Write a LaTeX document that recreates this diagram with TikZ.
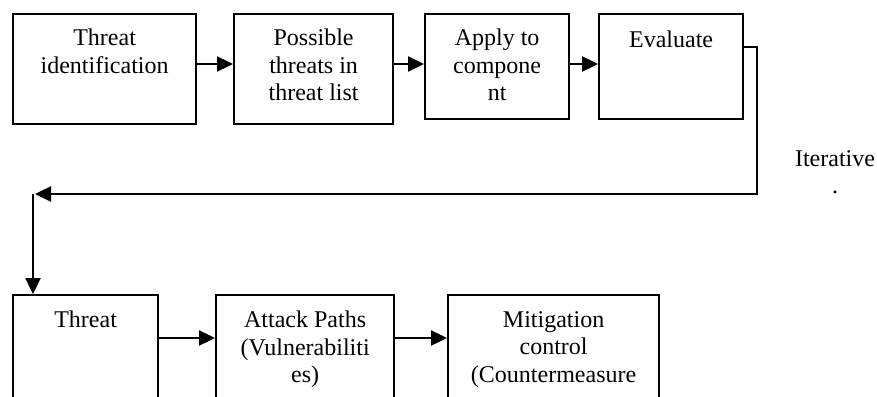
\documentclass[tikz,border=0pt]{standalone}
\usepackage{fontspec}
\setmainfont{Liberation Serif}
\usetikzlibrary{arrows.meta}
\begin{document}
\begin{tikzpicture}[x=1pt,y=-1pt,
  box/.style={draw,line width=2.2pt,rectangle,anchor=north west,inner sep=0pt},
  lbl/.style={anchor=north,align=center,inner sep=0pt,font=\fontsize{24}{27.5}\selectfont},
  conn/.style={line width=2.4pt,-{Triangle[length=16pt,width=15pt]}},
  line/.style={line width=2.4pt}]
\useasboundingbox (0,0) rectangle (877,396);
\clip (0,0) rectangle (877,396);
% top row
\node[box,minimum width=183pt,minimum height=110pt] (b1) at (12,13) {};
\node[box,minimum width=159pt,minimum height=110pt] (b2) at (233,13) {};
\node[box,minimum width=144pt,minimum height=105pt] (b3) at (424,13) {};
\node[box,minimum width=144pt,minimum height=105pt] (b4) at (598,13) {};
% bottom row
\node[box,minimum width=145pt,minimum height=140pt] (b5) at (12,294) {};
\node[box,minimum width=178pt,minimum height=140pt] (b6) at (215,294) {};
\node[box,minimum width=211pt,minimum height=140pt] (b7) at (447,294) {};
% labels
\node[lbl] (t1) at ([yshift=-16pt]b1.north) {Threat\\identification};
\node[lbl] (t2) at ([yshift=-16pt]b2.north) {Possible\\threats in\\threat list};
\node[lbl] (t3) at ([yshift=-16pt]b3.north) {Apply to\\compone\\nt};
\node[lbl] (t4) at ([yshift=-18pt]b4.north) {Evaluate};
\node[lbl] (t5) at ([yshift=-17pt]b5.north) {Threat};
\node[lbl] (t6) at ([yshift=-17pt]b6.north) {Attack Paths\\(Vulnerabiliti\\es)};
\node[lbl] (t7) at ([yshift=-17pt]b7.north) {Mitigation\\control\\(Countermeasure};
\node[lbl] (it) at (835,150) {Iterative\\.};
% horizontal arrows
\coordinate (y1) at (0,64);
\coordinate (y2) at (0,338);
\draw[conn] (b1.east |- y1) -- (b2.west |- y1);
\draw[conn] (b2.east |- y1) -- (b3.west |- y1);
\draw[conn] (b3.east |- y1) -- (b4.west |- y1);
\draw[conn] (b5.east |- y2) -- (b6.west |- y2);
\draw[conn] (b6.east |- y2) -- (b7.west |- y2);
% feedback loop
\coordinate (c1) at (757,47);
\coordinate (c2) at (757,194);
\coordinate (c3) at (35,194);
\coordinate (c4) at (33,194);
\draw[conn] (b4.east |- c1) -- (c1) -- (c2) -- (c3);
\draw[conn] (c4) -- (c4 |- b5.north);
\end{tikzpicture}
\end{document}
